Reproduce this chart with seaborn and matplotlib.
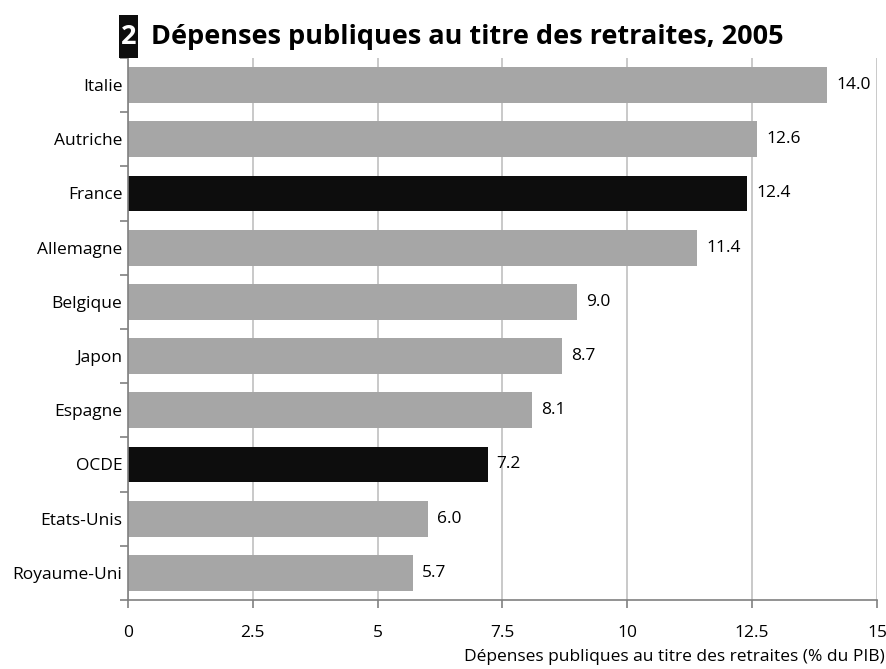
import matplotlib
matplotlib.use("Agg")
import matplotlib.pyplot as plt
import matplotlib.patches as mpatches
import seaborn as sns
import pandas as pd

countries = ["Italie", "Autriche", "France", "Allemagne", "Belgique", "Japon",
             "Espagne", "OCDE", "Etats-Unis", "Royaume-Uni"]
values = [14.0, 12.6, 12.4, 11.4, 9.0, 8.7, 8.1, 7.2, 6.0, 5.7]
highlight = ["France", "OCDE"]
x_ticks = [0, 2.5, 5, 7.5, 10, 12.5, 15]
x_tick_labels = ["0", "2.5", "5", "7.5", "10", "12.5", "15"]
title_num = "2"
title = "Dépenses publiques au titre des retraites, 2005"
xlabel = "Dépenses publiques au titre des retraites (% du PIB)"

sns.set_theme(style="white")
plt.rcParams['font.family'] = ['Open Sans', 'DejaVu Sans']
plt.rcParams['text.color'] = 'black'
plt.rcParams['xtick.color'] = 'black'
plt.rcParams['ytick.color'] = 'black'

df = pd.DataFrame({"pays": countries, "val": values})
df["grp"] = ["hl" if c in highlight else "base" for c in countries]
palette = {"hl": "#0D0D0D", "base": "#A6A6A6"}

fig = plt.figure(figsize=(8.87, 6.69), dpi=100)
ax = fig.add_axes([128/887, 1-600/669, (877-128)/887, (600-58)/669])

sns.barplot(data=df, y="pays", x="val", hue="grp", palette=palette,
            dodge=False, legend=False, width=0.66, ax=ax, orient="h",
            saturation=1, linewidth=0, edgecolor="none")

FS = 12.5
ax.set_xlim(0, 15)
ax.set_ylim(len(countries)-0.5, -0.5)
ax.set_xticks(x_ticks)
ax.set_xticklabels(x_tick_labels, fontsize=FS)
ax.xaxis.grid(True, color="#C0C0C0", linewidth=1.2)
ax.set_axisbelow(True)

ax.set_yticks(range(len(countries)))
ax.set_yticklabels(countries, fontsize=FS)
ax.tick_params(axis="y", length=0, pad=4)
ax.set_yticks([i - 0.5 for i in range(len(countries)+1)], minor=True)
ax.tick_params(axis="y", which="minor", length=6, width=1.2, color="#808080", direction="out", left=True)
ax.tick_params(axis="x", length=6, width=1.2, color="#808080", direction="out", bottom=True, pad=12)

for s in ["top", "right"]:
    ax.spines[s].set_visible(False)
for s in ["left", "bottom"]:
    ax.spines[s].set_color("#808080")
    ax.spines[s].set_linewidth(1.2)

ax.set_ylabel("")
ax.set_xlabel("")
fig.text(885/887, 1-657/669, xlabel, fontsize=FS, ha="right", va="center")

for i, v in enumerate(values):
    ax.text(v + 0.18, i, f"{v:.1f}", va="center", ha="left", fontsize=FS)

fig.patches.append(mpatches.Rectangle((119/887, 1-58/669), 19/887, 43/669,
                                      transform=fig.transFigure, facecolor="#0D0D0D",
                                      edgecolor="none"))
fig.text(128.5/887, 1-37/669, title_num, fontsize=19.5, fontweight="bold", color="white",
         ha="center", va="center")
fig.text(151/887, 1-37/669, title, fontsize=19.5, fontweight="bold", color="black",
         ha="left", va="center")

fig.savefig("out.png", dpi=100)
